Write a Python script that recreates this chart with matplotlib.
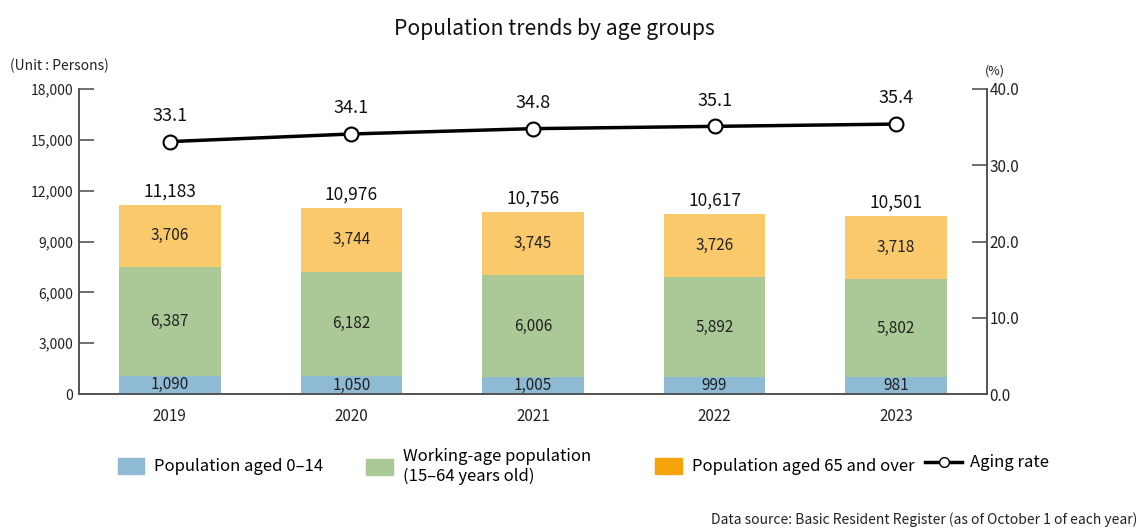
import matplotlib.pyplot as plt
from matplotlib.patches import Patch
from matplotlib.lines import Line2D
import numpy as np

plt.rcParams['font.family'] = ['Noto Sans CJK KR', 'DejaVu Sans']

years = ["2019", "2020", "2021", "2022", "2023"]
young = [1090, 1050, 1005, 999, 981]
working = [6387, 6182, 6006, 5892, 5802]
elderly = [3706, 3744, 3745, 3726, 3718]
totals = [11183, 10976, 10756, 10617, 10501]
aging_rate = [33.1, 34.1, 34.8, 35.1, 35.4]

c_young = '#8fbad3'
c_working = '#abc897'
c_elderly = '#f9c96b'
c_elderly_leg = '#f5a30a'
axis_gray = '#555555'

fig = plt.figure(figsize=(11.41, 5.29), dpi=100)
ax1 = fig.add_axes([0.0692, 0.255, 0.7958, 0.5768])
ax2 = ax1.twinx()

x = np.arange(len(years))
w = 0.56
b1 = ax1.bar(x, young, w, color=c_young)
b2 = ax1.bar(x, working, w, bottom=young, color=c_working)
bottom3 = np.array(young) + np.array(working)
b3 = ax1.bar(x, elderly, w, bottom=bottom3, color=c_elderly)

# segment labels
for i in range(len(years)):
    ax1.text(x[i], young[i] / 2, f'{young[i]:,}', ha='center', va='center',
             fontsize=11, color='#222222')
    ax1.text(x[i], young[i] + working[i] / 2, f'{working[i]:,}', ha='center',
             va='center', fontsize=11, color='#222222')
    ax1.text(x[i], bottom3[i] + elderly[i] / 2, f'{elderly[i]:,}', ha='center',
             va='center', fontsize=11, color='#222222')
    ax1.text(x[i], totals[i] + 250, f'{totals[i]:,}', ha='center', va='bottom',
             fontsize=12.5, color='#111111')

ax1.set_xlim(-0.5, 4.5)
ax1.set_ylim(0, 18000)
ax1.set_yticks(range(0, 18001, 3000))
ax1.set_yticklabels([f'{v:,}' for v in range(0, 18001, 3000)])
ax1.set_xticks(x)
ax1.set_xticklabels(years)
ax1.tick_params(axis='x', length=0, labelsize=11, pad=10, colors='#222222')
ax1.tick_params(axis='y', direction='in', length=11, width=1.2, labelsize=10,
                color=axis_gray, labelcolor='#222222', pad=4)

ax2.set_ylim(0, 40)
ax2.set_yticks([0, 10, 20, 30, 40])
ax2.set_yticklabels([f'{v:.1f}' for v in [0, 10, 20, 30, 40]])
ax2.tick_params(axis='y', direction='in', length=11, width=1.2, labelsize=11,
                color=axis_gray, labelcolor='#222222', pad=2)

ax2.plot(x, aging_rate, color='black', lw=2.5, marker='o', markersize=10,
         markerfacecolor='white', markeredgecolor='black', markeredgewidth=1.5,
         zorder=5)
for i in range(len(years)):
    ax2.text(x[i], aging_rate[i] + 2.2, f'{aging_rate[i]:.1f}', ha='center',
             va='bottom', fontsize=13, color='#111111')

for ax in (ax1, ax2):
    ax.spines['top'].set_visible(False)
    for s in ('left', 'right', 'bottom'):
        ax.spines[s].set_color(axis_gray)
        ax.spines[s].set_linewidth(1.3)

fig.text(0.486, 0.945, 'Population trends by age groups', ha='center',
         va='center', fontsize=15.2, color='#111111')
fig.text(0.009, 0.875, '(Unit : Persons)', ha='left', va='center',
         fontsize=10, color='#222222')
fig.text(0.872, 0.865, '(%)', ha='center', va='center', fontsize=9,
         color='#222222')
fig.text(0.997, 0.018, 'Data source: Basic Resident Register (as of October 1 of each year)',
         ha='right', va='center', fontsize=10, color='#222222')

# legend entries placed one by one
entries = [
    (Patch(color=c_young), 'Population aged 0–14', 0.103),
    (Patch(color=c_working), 'Working-age population\n(15–64 years old)', 0.321),
    (Patch(color=c_elderly_leg), 'Population aged 65 and over', 0.574),
]
for handle, label, xpos in entries:
    fig.legend([handle], [label], loc='center left', bbox_to_anchor=(xpos, 0.118),
               frameon=False, fontsize=12, handlelength=1.6, handleheight=1.1,
               handletextpad=0.6, borderaxespad=0, borderpad=0)
line_h = Line2D([], [], color='black', lw=2.5, marker='o', markersize=7,
                markerfacecolor='white', markeredgecolor='black')
fig.legend([line_h], ['Aging rate'], loc='center left', bbox_to_anchor=(0.811, 0.125),
           frameon=False, fontsize=12, handlelength=2.2, handletextpad=0.5,
           borderaxespad=0, borderpad=0)

fig.savefig('out.png', dpi=100)
